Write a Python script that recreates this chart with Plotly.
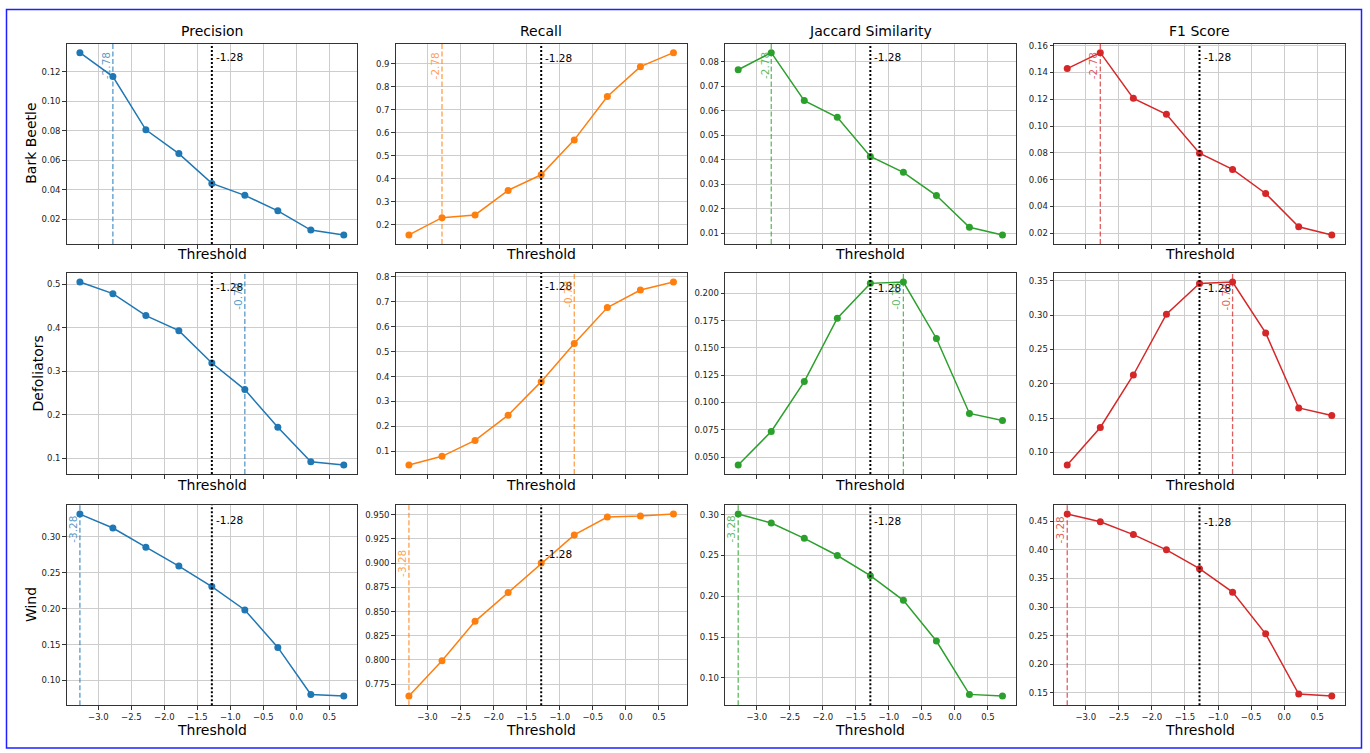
import plotly.graph_objects as go
from plotly.subplots import make_subplots

# ---------------- data ----------------
thresholds = [-3.28, -2.78, -2.28, -1.78, -1.28, -0.78, -0.28, 0.22, 0.72]
default_threshold = -1.28
metrics = ["Precision", "Recall", "Jaccard Similarity", "F1 Score"]
classes = ["Bark Beetle", "Defoliators", "Wind"]

bark_precision = [0.1328, 0.1166, 0.0805, 0.0644, 0.0442, 0.0361, 0.0256, 0.0126, 0.0093]
bark_recall = [0.155, 0.230, 0.242, 0.349, 0.417, 0.569, 0.758, 0.888, 0.949]
bark_jaccard = [0.0768, 0.0838, 0.0642, 0.0574, 0.0414, 0.0349, 0.0254, 0.0124, 0.0093]
bark_f1 = [0.1429, 0.1548, 0.1207, 0.1088, 0.0798, 0.0677, 0.0497, 0.0249, 0.0188]

defol_precision = [0.5046, 0.478, 0.4276, 0.393, 0.3187, 0.2578, 0.1716, 0.0924, 0.0848]
defol_recall = [0.0454, 0.0800, 0.1439, 0.2451, 0.3795, 0.5326, 0.6763, 0.7468, 0.7787]
defol_jaccard = [0.0427, 0.0734, 0.1191, 0.1772, 0.2091, 0.2103, 0.1586, 0.0899, 0.0835]
defol_f1 = [0.0816, 0.1363, 0.2127, 0.3012, 0.3461, 0.3481, 0.2740, 0.1647, 0.1536]

wind_precision = [0.3318, 0.3124, 0.2857, 0.2594, 0.2309, 0.1982, 0.1461, 0.0806, 0.0783]
wind_recall = [0.7627, 0.7993, 0.8399, 0.8696, 0.9001, 0.9292, 0.9476, 0.9486, 0.9507]
wind_jaccard = [0.3008, 0.2898, 0.2711, 0.2500, 0.2252, 0.1951, 0.1451, 0.0797, 0.0776]
wind_f1 = [0.4627, 0.4494, 0.4268, 0.4002, 0.3672, 0.3261, 0.2531, 0.1477, 0.1442]

series = [
    [bark_precision, bark_recall, bark_jaccard, bark_f1],
    [defol_precision, defol_recall, defol_jaccard, defol_f1],
    [wind_precision, wind_recall, wind_jaccard, wind_f1],
]

x_tick_values = [-3.0, -2.5, -2.0, -1.5, -1.0, -0.5, 0.0, 0.5]
x_tick_labels = ["\u22123.0", "\u22122.5", "\u22122.0", "\u22121.5", "\u22121.0", "\u22120.5", "0.0", "0.5"]

y_dticks = [
    [0.02, 0.1, 0.01, 0.02],
    [0.1, 0.1, 0.025, 0.05],
    [0.05, 0.025, 0.05, 0.05],
]
y_formats = [
    [".2f", ".1f", ".2f", ".2f"],
    [".1f", ".1f", ".3f", ".2f"],
    [".2f", ".3f", ".2f", ".2f"],
]

# ---------------- style ----------------
colors = ["#1f77b4", "#ff7f0e", "#2ca02c", "#d62728"]
light = ["rgba(31,119,180,0.75)", "rgba(255,127,14,0.75)", "rgba(44,160,44,0.75)", "rgba(214,39,40,0.75)"]
FONT = "DejaVu Sans"
W, H = 1370, 753
col_px = [(66.7, 357.0), (395.7, 686.7), (725.0, 1015.7), (1054.0, 1345.0)]
row_px = [(40.7, 242.0), (271.0, 473.0), (504.0, 705.0)]

fig = make_subplots(rows=3, cols=4)

annotations = []
shapes = []
xmin, xmax = min(thresholds), max(thresholds)
xpad = 0.05 * (xmax - xmin)

for r in range(3):
    f1 = series[r][3]
    best = thresholds[f1.index(max(f1))]
    for c in range(4):
        idx = r * 4 + c + 1
        vals = series[r][c]
        fig.add_trace(
            go.Scatter(
                x=thresholds, y=vals, mode="lines+markers",
                line=dict(color=colors[c], width=1.5),
                marker=dict(color=colors[c], size=7),
                showlegend=False, hoverinfo="skip",
            ),
            row=r + 1, col=c + 1,
        )
        lo, hi = min(vals), max(vals)
        ypad = 0.05 * (hi - lo)
        ytop = hi + ypad
        xa = "xaxis" if idx == 1 else f"xaxis{idx}"
        ya = "yaxis" if idx == 1 else f"yaxis{idx}"
        xref = "x" if idx == 1 else f"x{idx}"
        yref = "y" if idx == 1 else f"y{idx}"
        fig.layout[xa].update(
            domain=[col_px[c][0] / W, col_px[c][1] / W],
            range=[xmin - xpad, xmax + xpad],
            tickmode="array", tickvals=x_tick_values, ticktext=x_tick_labels,
            showticklabels=(r == 2),
            ticks="outside", ticklen=3.5, tickwidth=0.8, tickcolor="#333333",
            showgrid=True, gridcolor="#cdcdcd", gridwidth=1,
            showline=True, linecolor="#333333", linewidth=1, mirror=True,
            zeroline=False, tickfont=dict(family=FONT, size=8.5, color="#222222"),
        )
        fig.layout[ya].update(
            domain=[1 - row_px[r][1] / H, 1 - row_px[r][0] / H],
            range=[lo - ypad, ytop],
            dtick=y_dticks[r][c], tick0=0, tickformat=y_formats[r][c],
            ticks="outside", ticklen=3.5, tickwidth=0.8, tickcolor="#333333",
            showgrid=True, gridcolor="#cdcdcd", gridwidth=1,
            showline=True, linecolor="#333333", linewidth=1, mirror=True,
            zeroline=False, tickfont=dict(family=FONT, size=8.5, color="#222222"),
        )
        # default threshold dotted line
        shapes.append(dict(type="line", xref=xref, yref=f"{yref} domain",
                           x0=default_threshold, x1=default_threshold, y0=0, y1=1,
                           line=dict(color="black", width=2, dash="2px,2px")))
        # best threshold dashed line
        shapes.append(dict(type="line", xref=xref, yref=f"{yref} domain",
                           x0=best, x1=best, y0=0, y1=1,
                           line=dict(color=light[c], width=1.3, dash="5px,2.5px")))
        annotations.append(dict(x=default_threshold, y=0.95 * ytop, xref=xref, yref=yref,
                                text=f"{default_threshold:.2f}", showarrow=False,
                                xanchor="left", yanchor="top", xshift=2, yshift=5,
                                font=dict(family=FONT, size=10.5, color="black")))
        annotations.append(dict(x=best, y=0.95 * ytop, xref=xref, yref=yref,
                                text=f"{best:.2f}", showarrow=False, textangle=-90,
                                xanchor="right", yanchor="top", xshift=1, yshift=4,
                                font=dict(family=FONT, size=10.5, color=light[c])))
        # x axis title
        xt_off = 24.5 if r == 2 else 10.5
        annotations.append(dict(x=(col_px[c][0] + col_px[c][1]) / 2 / W,
                                y=1 - (row_px[r][1] + xt_off) / H, xref="paper", yref="paper",
                                text="Threshold", showarrow=False, xanchor="center", yanchor="middle",
                                font=dict(family=FONT, size=14, color="black")))

for c, m in enumerate(metrics):
    annotations.append(dict(x=(col_px[c][0] + col_px[c][1]) / 2 / W, y=1 - 28.5 / H,
                            xref="paper", yref="paper", text=m, showarrow=False,
                            xanchor="center", yanchor="middle",
                            font=dict(family=FONT, size=14, color="black")))

row_label_x = [31, 38, 31]
for r, name in enumerate(classes):
    annotations.append(dict(x=row_label_x[r] / W, y=1 - (row_px[r][0] + row_px[r][1]) / 2 / H,
                            xref="paper", yref="paper", text=name, showarrow=False,
                            textangle=-90, xanchor="center", yanchor="middle",
                            font=dict(family=FONT, size=14, color="black")))

# outer blue frame
shapes.append(dict(type="rect", xref="paper", yref="paper",
                   x0=6.5 / W, x1=1361.5 / W, y0=1 - 748 / H, y1=1 - 6.5 / H,
                   line=dict(color="#2020ff", width=1.5), fillcolor="rgba(0,0,0,0)"))

fig.update_layout(
    width=W, height=H, margin=dict(l=0, r=0, t=0, b=0),
    paper_bgcolor="white", plot_bgcolor="white",
    annotations=annotations, shapes=shapes,
    font=dict(family=FONT),
)

fig.write_html("out.html", config={"displayModeBar": False},
               post_script="document.body.style.margin='0px';document.body.style.overflow='hidden';")
